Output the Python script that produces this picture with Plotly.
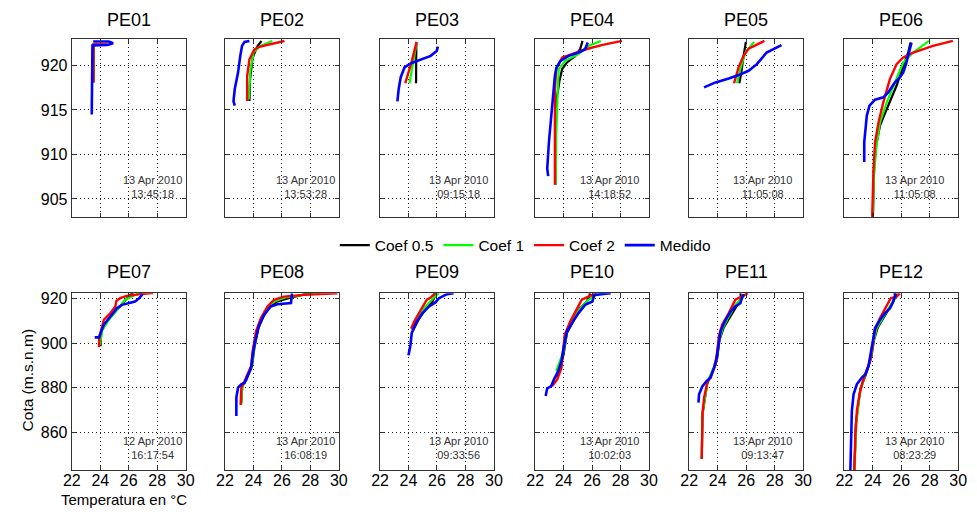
import plotly.graph_objects as go

# ---------------- DATA (T in °C, z in m.s.n.m) ----------------
panel_names = ["PE01", "PE02", "PE03", "PE04", "PE05", "PE06",
               "PE07", "PE08", "PE09", "PE10", "PE11", "PE12"]
panel_dates = ["13 Apr 2010", "13 Apr 2010", "13 Apr 2010", "13 Apr 2010", "13 Apr 2010", "13 Apr 2010",
               "12 Apr 2010", "13 Apr 2010", "13 Apr 2010", "13 Apr 2010", "13 Apr 2010", "13 Apr 2010"]
panel_times = ["13:45:18", "13:53:28", "09:15:18", "14:18:52", "11:05:08", "11:05:08",
               "16:17:54", "16:08:19", "09:33:56", "10:02:03", "09:13:47", "08:23:29"]
series_names = ["Coef 0.5", "Coef 1", "Coef 2", "Medido"]
x_ticks = [22, 24, 26, 28, 30]
y_ticks_top = [905, 910, 915, 920]
y_ticks_bottom = [860, 880, 900, 920]

# PE01
PE01_coef05 = [(23.52, 918.1), (23.52, 920.0), (23.53, 922.35), (24.5, 922.35)]
PE01_coef1 = [(23.52, 918.1), (23.52, 920.0), (23.53, 922.35), (24.5, 922.35)]
PE01_coef2 = [(23.52, 918.1), (23.52, 920.0), (23.53, 922.35), (24.5, 922.35)]
PE01_medido = [(23.4, 914.5), (23.42, 918.0), (23.45, 922.25), (24.5, 922.3), (24.9, 922.5),
               (24.6, 922.7), (23.5, 922.7)]
# PE02
PE02_coef05 = [(23.72, 916.0), (23.77, 918.5), (23.95, 920.9), (24.3, 922.2), (24.57, 922.75)]
PE02_coef1 = [(23.68, 916.2), (23.8, 919.6), (24.02, 921.5), (24.5, 922.2), (25.33, 922.75)]
PE02_coef2 = [(23.56, 916.0), (23.56, 918.8), (23.72, 920.7), (24.07, 921.8), (24.41, 922.1),
              (25.2, 922.4), (26.18, 922.75)]
PE02_medido = [(22.69, 915.5), (22.6, 916.0), (22.69, 917.35), (22.92, 919.2), (23.08, 921.1),
               (23.2, 922.2), (23.38, 922.65), (23.72, 922.75)]
# PE03
PE03_coef05 = [(24.53, 918.0), (24.53, 920.0), (24.55, 922.57)]
PE03_coef1 = [(24.07, 918.0), (24.3, 920.2), (24.57, 922.57)]
PE03_coef2 = [(23.77, 918.0), (24.2, 920.3), (24.57, 922.65)]
PE03_medido = [(23.22, 915.97), (23.31, 917.35), (23.45, 918.66), (23.72, 919.78), (24.18, 920.26),
               (24.87, 920.63), (25.56, 921.08), (25.98, 921.64), (26.07, 922.13)]
# PE04
PE04_coef05 = [(23.43, 906.6), (23.48, 915.86), (23.71, 918.28), (23.9, 919.6), (24.24, 920.34),
               (24.82, 921.08), (25.16, 921.83), (25.33, 922.76)]
PE04_coef1 = [(23.45, 906.6), (23.48, 912.1), (23.6, 917.7), (23.66, 919.6), (24.12, 920.52),
              (25.05, 921.27), (25.74, 922.2), (26.62, 922.76)]
PE04_coef2 = [(23.39, 906.6), (23.39, 917.35), (23.48, 919.6), (23.9, 920.9), (24.59, 921.27),
              (25.5, 921.8), (26.67, 922.28), (28.1, 922.76)]
PE04_medido = [(22.92, 907.57), (22.85, 908.4), (22.97, 911.4), (23.2, 915.86), (23.39, 918.84),
               (23.5, 919.78), (23.78, 920.52), (24.36, 921.08), (25.05, 921.46), (25.5, 921.8),
               (25.7, 922.57)]
# PE05
PE05_coef05 = [(25.52, 918.0), (25.66, 919.2), (25.82, 921.08), (25.98, 922.65)]
PE05_coef1 = [(25.36, 918.0), (25.59, 919.6), (25.94, 921.46), (26.56, 922.65)]
PE05_coef2 = [(25.15, 918.0), (25.47, 919.8), (25.82, 921.08), (26.17, 921.9), (27.28, 922.76)]
PE05_medido = [(23.04, 917.54), (23.85, 918.1), (24.78, 918.54), (25.47, 918.92), (26.17, 919.4),
               (26.75, 920.15), (27.44, 921.46), (28.02, 921.9), (28.48, 922.28)]
# PE06
PE06_coef05 = [(24.0, 902.5), (24.09, 908.4), (24.23, 911.0), (24.51, 913.25), (24.74, 914.18),
               (25.2, 916.04), (25.67, 917.72), (26.14, 919.96), (26.49, 921.46), (26.65, 922.57)]
PE06_coef1 = [(24.02, 903.5), (24.09, 907.65), (24.23, 910.6), (24.51, 913.6), (24.98, 915.86),
              (25.56, 918.1), (26.14, 920.34), (26.84, 921.46), (27.95, 922.76)]
PE06_coef2 = [(23.95, 902.5), (24.05, 908.4), (24.16, 911.38), (24.4, 913.6), (24.74, 915.86),
              (25.2, 918.47), (25.67, 920.15), (26.14, 920.9), (26.84, 921.46), (28.23, 922.2),
              (29.63, 922.76)]
PE06_medido = [(23.4, 909.14), (23.4, 911.38), (23.58, 914.37), (23.77, 915.49), (24.16, 916.16),
               (24.74, 916.42), (25.09, 916.98), (25.56, 918.1), (25.9, 918.66), (26.14, 919.22),
               (26.33, 920.15), (26.49, 921.08), (26.72, 922.57)]
# PE07
PE07_coef05 = [(24.02, 898.7), (24.07, 905.4), (24.48, 909.9), (25.06, 914.3), (25.63, 918.8),
               (26.09, 921.8), (26.32, 922.5)]
PE07_coef1 = [(23.98, 899.4), (24.14, 906.1), (24.6, 910.6), (25.17, 915.1), (25.75, 919.6),
              (26.55, 922.1), (27.24, 922.5)]
PE07_coef2 = [(23.91, 898.4), (23.93, 902.4), (24.25, 910.6), (24.71, 913.6), (25.06, 916.6),
              (25.13, 919.1), (25.4, 920.3), (25.86, 921.3), (26.78, 922.1), (27.7, 922.6)]
PE07_medido = [(23.61, 902.7), (23.91, 902.7), (24.02, 904.66), (24.25, 908.4), (24.71, 912.1),
               (25.17, 915.8), (25.52, 917.3), (26.44, 918.8), (26.74, 920.3), (26.97, 922.1)]
# PE08
PE08_coef05 = [(23.15, 873.4), (23.22, 880.8), (23.49, 883.4), (23.91, 890.1), (24.07, 898.0),
               (24.34, 906.6), (24.71, 912.1), (25.17, 917.0), (25.68, 918.8), (26.48, 920.3),
               (27.63, 922.1), (28.2, 922.5)]
PE08_coef1 = [(23.15, 872.3), (23.2, 880.1), (23.43, 883.1), (23.89, 889.8), (24.02, 897.2),
              (24.25, 905.7), (24.6, 911.7), (25.06, 916.9), (25.56, 919.1), (26.25, 920.6),
              (27.52, 921.8), (28.67, 922.5)]
PE08_coef2 = [(23.1, 872.3), (23.15, 880.1), (23.38, 883.1), (23.84, 889.8), (23.95, 896.5),
              (24.18, 905.4), (24.53, 911.4), (24.99, 916.6), (25.45, 919.6), (26.14, 921.0),
              (27.52, 921.8), (29.9, 922.5)]
PE08_medido = [(22.8, 867.4), (22.8, 875.6), (22.92, 880.1), (23.15, 881.6), (23.38, 882.3),
               (23.61, 886.0), (23.84, 889.0), (23.95, 895.0), (24.11, 900.9), (24.41, 908.4),
               (24.76, 912.9), (25.22, 916.6), (25.68, 917.6), (26.64, 918.1), (26.71, 922.5)]
# PE09
PE09_coef05 = [(24.3, 905.7), (24.76, 911.4), (25.22, 915.5), (25.68, 918.8), (25.91, 921.8),
               (25.79, 922.5)]
PE09_coef1 = [(24.23, 906.1), (24.64, 911.4), (25.1, 915.8), (25.56, 919.1), (25.91, 921.5),
              (26.14, 922.5)]
PE09_coef2 = [(24.18, 906.6), (24.41, 909.9), (24.87, 915.1), (25.29, 919.6), (25.56, 920.6),
              (25.86, 922.5)]
PE09_medido = [(24.0, 894.7), (24.14, 899.4), (24.23, 904.7), (24.53, 909.1), (24.99, 913.6),
               (25.45, 916.6), (25.91, 918.5), (26.14, 920.3), (26.71, 922.1), (27.17, 922.5)]
# PE10
PE10_coef05 = [(23.55, 884.6), (24.0, 895.0), (24.24, 904.7), (24.7, 910.6), (25.16, 915.8),
               (25.63, 918.8), (25.86, 921.8), (25.8, 922.5)]
PE10_coef1 = [(23.48, 887.5), (24.0, 896.5), (24.24, 905.4), (24.7, 911.4), (25.28, 916.6),
              (25.74, 919.6), (26.32, 921.8), (26.9, 922.5)]
PE10_coef2 = [(23.2, 880.8), (23.55, 883.8), (23.85, 889.0), (23.96, 896.5), (24.08, 903.9),
              (24.47, 909.9), (24.93, 915.1), (25.28, 919.6), (25.74, 921.0), (26.32, 922.5)]
PE10_medido = [(22.74, 876.4), (22.85, 879.8), (23.13, 880.8), (23.32, 883.8), (23.62, 887.5),
               (23.85, 892.0), (24.0, 898.0), (24.24, 905.4), (24.59, 909.1), (25.05, 913.6),
               (25.51, 917.3), (26.02, 918.8), (26.16, 921.8), (26.67, 922.1), (27.31, 922.5)]
# PE11
PE11_coef05 = [(22.88, 848.1), (22.93, 868.2), (23.27, 882.3), (23.85, 890.5), (23.97, 893.5),
               (24.13, 901.7), (24.43, 907.2), (24.9, 912.1), (25.36, 917.3), (25.66, 920.3),
               (25.59, 922.5)]
PE11_coef1 = [(22.88, 848.1), (22.93, 868.2), (23.27, 882.3), (23.85, 890.5), (23.9, 892.0),
              (24.08, 900.9), (24.36, 906.9), (24.78, 912.1), (25.24, 917.3), (25.7, 920.3),
              (26.05, 922.5)]
PE11_coef2 = [(22.88, 848.1), (22.88, 857.8), (22.93, 868.2), (23.04, 875.6), (23.27, 882.3),
              (23.57, 886.0), (23.85, 890.5), (23.97, 896.5), (24.08, 903.2), (24.31, 908.4),
              (24.78, 913.6), (25.24, 919.6), (25.66, 921.0), (26.12, 922.5)]
PE11_medido = [(22.65, 873.4), (22.69, 877.1), (22.93, 880.8), (23.23, 883.1), (23.5, 884.6),
               (23.74, 889.0), (23.92, 893.5), (24.04, 899.4), (24.2, 905.4), (24.5, 909.9),
               (24.9, 914.3), (25.24, 916.6), (25.59, 918.1), (25.7, 920.3), (25.82, 922.1)]
# PE12
PE12_coef05 = [(22.7, 842.0), (22.81, 863.9), (23.12, 879.5), (23.51, 885.9), (23.91, 894.2),
               (24.09, 901.7), (24.35, 907.2), (24.79, 911.7), (25.16, 915.5), (25.44, 918.8),
               (25.56, 921.5), (25.51, 922.5)]
PE12_coef1 = [(22.72, 842.0), (22.84, 863.9), (23.12, 878.8), (23.47, 885.5), (23.86, 893.5),
              (24.05, 900.9), (24.28, 906.9), (24.7, 911.4), (25.09, 915.8), (25.4, 918.8),
              (25.67, 921.0), (25.79, 922.5)]
PE12_coef2 = [(22.7, 842.0), (22.77, 857.8), (22.88, 869.7), (23.07, 877.1), (23.3, 883.1),
              (23.53, 886.8), (23.81, 892.0), (23.98, 899.4), (24.16, 906.1), (24.51, 911.4),
              (24.98, 917.3), (25.26, 920.3), (25.67, 921.0), (25.9, 922.5)]
PE12_medido = [(22.42, 842.0), (22.47, 857.8), (22.53, 869.7), (22.65, 877.1), (22.88, 881.6),
               (23.23, 884.6), (23.47, 886.0), (23.7, 889.8), (23.86, 895.0), (24.0, 900.9),
               (24.16, 906.9), (24.51, 910.6), (24.86, 913.6), (25.21, 915.8), (25.44, 918.8),
               (25.56, 921.8), (25.63, 922.5)]

panel_series = [
    [PE01_coef05, PE01_coef1, PE01_coef2, PE01_medido],
    [PE02_coef05, PE02_coef1, PE02_coef2, PE02_medido],
    [PE03_coef05, PE03_coef1, PE03_coef2, PE03_medido],
    [PE04_coef05, PE04_coef1, PE04_coef2, PE04_medido],
    [PE05_coef05, PE05_coef1, PE05_coef2, PE05_medido],
    [PE06_coef05, PE06_coef1, PE06_coef2, PE06_medido],
    [PE07_coef05, PE07_coef1, PE07_coef2, PE07_medido],
    [PE08_coef05, PE08_coef1, PE08_coef2, PE08_medido],
    [PE09_coef05, PE09_coef1, PE09_coef2, PE09_medido],
    [PE10_coef05, PE10_coef1, PE10_coef2, PE10_medido],
    [PE11_coef05, PE11_coef1, PE11_coef2, PE11_medido],
    [PE12_coef05, PE12_coef1, PE12_coef2, PE12_medido],
]

# ---------------- STYLE / LAYOUT ----------------
W, H = 977, 512
FONT = "Liberation Sans, Arial, sans-serif"
colors = ["#000000", "#00ff00", "#ff0000", "#0000ff"]
widths = [2.2, 2.2, 2.4, 2.6]
col_left_px = [64, 220, 378, 536, 693, 851]
panel_w_px = 116
row_px = [(36, 215), (292, 470)]
date_xfrac = [0.71, 0.705, 0.685, 0.655, 0.642, 0.615]
date_yfrac = [0.168, 0.128]
title_y_px = [17, 271]

fig = go.Figure()
layout = dict(
    width=W, height=H, margin=dict(l=0, r=0, t=0, b=0),
    paper_bgcolor="white", plot_bgcolor="white",
    font=dict(family=FONT, color="black"),
    showlegend=True,
    legend=dict(orientation="h", x=526 / W, y=(H - 244) / H, xanchor="center", yanchor="middle",
                font=dict(size=15.5, family=FONT, color="black"), bgcolor="rgba(0,0,0,0)",
                itemwidth=30, tracegroupgap=0),
)
annotations = []

for i in range(12):
    r, c = divmod(i, 6)
    ax = "" if i == 0 else str(i + 1)
    x0 = col_left_px[c] / W
    x1 = (col_left_px[c] + panel_w_px) / W
    top, bot = row_px[r]
    y0 = (H - bot) / H
    y1 = (H - top) / H
    yr = [903, 923] if r == 0 else [843, 922.5]
    ytv = y_ticks_top if r == 0 else y_ticks_bottom
    common = dict(showgrid=True, gridcolor="#222222", griddash="1px,3px", gridwidth=1,
                  showline=True, mirror="ticks", linecolor="#333333", linewidth=1.2,
                  ticks="inside", ticklen=4, tickcolor="#333333", zeroline=False,
                  tickfont=dict(size=16, family=FONT, color="black"))
    layout["xaxis" + ax] = dict(domain=[x0, x1], range=[22, 30], tickvals=x_ticks,
                                showticklabels=(r == 1), anchor="y" + ax,
                                ticklabelstandoff=-5, **common)
    layout["yaxis" + ax] = dict(domain=[y0, y1], range=yr, tickvals=ytv,
                                showticklabels=(c == 0), anchor="x" + ax, **common)
    for s in range(4):
        pts = panel_series[i][s]
        fig.add_trace(go.Scatter(
            x=[p[0] for p in pts], y=[p[1] for p in pts], mode="lines",
            line=dict(color=colors[s], width=widths[s]),
            name=series_names[s], legendgroup=series_names[s], showlegend=(i == 0),
            xaxis="x" + ax, yaxis="y" + ax, hoverinfo="skip"))
    annotations.append(dict(text=panel_names[i], x=(x0 + x1) / 2, y=(H - title_y_px[r]) / H,
                            xref="paper", yref="paper", showarrow=False,
                            xanchor="center", yanchor="middle",
                            font=dict(size=18, family=FONT, color="black")))
    annotations.append(dict(text=panel_dates[i] + "<br>" + panel_times[i],
                            x=date_xfrac[c], y=date_yfrac[r],
                            xref="x" + ax + " domain", yref="y" + ax + " domain",
                            showarrow=False, xanchor="center", yanchor="middle",
                            font=dict(size=11, family=FONT, color="#333333")))

annotations.append(dict(text="Cota (m.s.n.m)", x=19 / W, y=(H - 380) / H, xref="paper", yref="paper",
                        showarrow=False, textangle=-90, xanchor="center", yanchor="middle",
                        font=dict(size=15.5, family=FONT, color="black")))
annotations.append(dict(text="Temperatura en °C", x=117 / W, y=(H - 499) / H, xref="paper", yref="paper",
                        showarrow=False, xanchor="center", yanchor="middle",
                        font=dict(size=15, family=FONT, color="black")))
layout["annotations"] = annotations
fig.update_layout(**layout)

fig.write_html("out.html")
